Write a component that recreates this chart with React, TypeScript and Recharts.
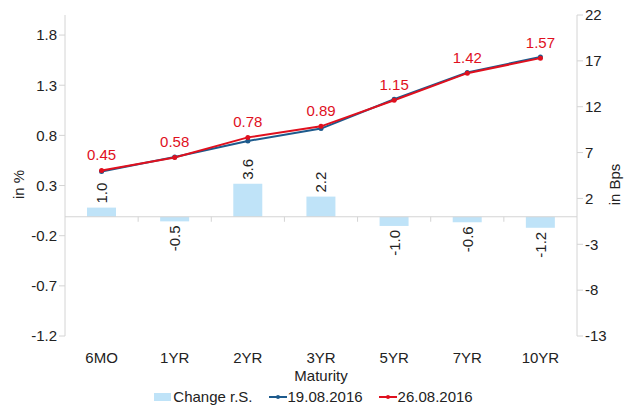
import React from "react";
import {
  ComposedChart,
  Bar,
  Line,
  XAxis,
  YAxis,
  ReferenceLine,
  LabelList,
  Legend,
} from "recharts";

const maturities = ["6MO", "1YR", "2YR", "3YR", "5YR", "7YR", "10YR"];
const yield19 = [0.44, 0.585, 0.744, 0.868, 1.16, 1.426, 1.582];
const yield26 = [0.45, 0.58, 0.78, 0.89, 1.15, 1.42, 1.57];
const changeBps = [1.0, -0.5, 3.6, 2.2, -1.0, -0.6, -1.2];

const leftTicks = [-1.2, -0.7, -0.2, 0.3, 0.8, 1.3, 1.8];
const rightTicks = [-13, -8, -3, 2, 7, 12, 17, 22];

const legendItems = [
  { name: "Change r.S.", color: "#bfe3f8", type: "bar" },
  { name: "19.08.2016", color: "#1d5a8c", type: "line" },
  { name: "26.08.2016", color: "#e0101e", type: "line" },
];

const data = maturities.map((m, i) => ({
  name: m,
  change: changeBps[i],
  y19: yield19[i],
  y26: yield26[i],
}));

const FONT = "'Liberation Sans', Arial, sans-serif";
const AXIS = "#d4d4d4";
const TEXT = "#222";

function BarLabel(props: any) {
  const { x, y, width, height, value } = props;
  const cx = x + width / 2;
  const top = Math.min(y, y + height);
  const bottom = Math.max(y, y + height);
  const pos = value >= 0;
  const ay = pos ? top - 4 : bottom + 4;
  return (
    <text
      x={cx}
      y={ay}
      transform={`rotate(-90 ${cx} ${ay})`}
      textAnchor={pos ? "start" : "end"}
      dominantBaseline="central"
      fontSize={15}
      fontFamily={FONT}
      fill={TEXT}
    >
      {value.toFixed(1)}
    </text>
  );
}

// axis title drawn rotated at a fixed offset inside the axis band
function AxisTitle(props: any) {
  const { viewBox, value, dx } = props;
  const x = viewBox.x + dx;
  const y = viewBox.y + viewBox.height / 2 + 9;
  return (
    <text
      x={x}
      y={y}
      transform={`rotate(-90 ${x} ${y})`}
      textAnchor="middle"
      dominantBaseline="central"
      fontSize={15}
      fontFamily={FONT}
      fill={TEXT}
    >
      {value}
    </text>
  );
}

// zero line with small tick marks between the categories
function ZeroLine(props: any) {
  const { x1, y1, x2 } = props;
  const n = maturities.length;
  const step = (x2 - x1) / n;
  const marks = [];
  for (let i = 1; i < n; i++) {
    const x = x1 + step * i;
    marks.push(<line key={i} x1={x} y1={y1} x2={x} y2={y1 + 5} stroke={AXIS} />);
  }
  return (
    <g>
      <line x1={x1} y1={y1} x2={x2} y2={y1} stroke={AXIS} />
      {marks}
    </g>
  );
}

function LegendContent() {
  return (
    <div
      style={{
        display: "flex",
        justifyContent: "center",
        gap: 16,
        fontFamily: FONT,
        fontSize: 15,
        color: TEXT,
      }}
    >
      {legendItems.map((it) => (
        <span key={it.name} style={{ display: "flex", alignItems: "center" }}>
          {it.type === "bar" ? (
            <svg width={17} height={10} style={{ marginRight: 2 }}>
              <rect x={0} y={1} width={17} height={8} fill={it.color} />
            </svg>
          ) : (
            <svg width={18} height={10} style={{ marginRight: 1 }}>
              <line x1={0} y1={5} x2={18} y2={5} stroke={it.color} strokeWidth={2} />
              <circle cx={9} cy={5} r={2} fill={it.color} />
            </svg>
          )}
          {it.name}
        </span>
      ))}
    </div>
  );
}

export default function App() {
  return (
    <div style={{ position: "absolute", left: 0, top: 0, background: "#fff" }}>
      <ComposedChart
        width={627}
        height={414}
        data={data}
        margin={{ top: 15, right: 5, left: 5, bottom: 0 }}
      >
        <XAxis
          dataKey="name"
          xAxisId="cat"
          axisLine={false}
          tickLine={false}
          tick={{ fill: TEXT, fontSize: 15, fontFamily: FONT }}
          height={52}
          tickMargin={10}
          label={{
            value: "Maturity",
            position: "insideBottom",
            offset: 7,
            fill: TEXT,
            fontSize: 15,
            fontFamily: FONT,
          }}
        />
        <YAxis
          yAxisId="left"
          orientation="left"
          domain={[-1.2, 2.0]}
          ticks={leftTicks}
          interval={0}
          width={60}
          stroke={AXIS}
          tick={{ fill: TEXT, fontSize: 15, fontFamily: FONT }}
          tickFormatter={(v) => v.toFixed(1)}
          label={<AxisTitle value="in %" dx={13} />}
        />
        <YAxis
          yAxisId="right"
          orientation="right"
          domain={[-13, 22]}
          ticks={rightTicks}
          interval={0}
          width={45}
          stroke={AXIS}
          tick={{ fill: TEXT, fontSize: 15, fontFamily: FONT }}
          label={<AxisTitle value="in Bps" dx={37} />}
        />
        <ReferenceLine
          yAxisId="right"
          xAxisId="cat"
          y={0}
          stroke={AXIS}
          shape={<ZeroLine />}
        />
        <Legend verticalAlign="bottom" height={26} content={<LegendContent />} />
        <Bar
          dataKey="change"
          xAxisId="cat"
          yAxisId="right"
          fill="#bfe3f8"
          barSize={29}
          isAnimationActive={false}
        >
          <LabelList dataKey="change" content={<BarLabel />} />
        </Bar>
        <Line
          dataKey="y19"
          xAxisId="cat"
          yAxisId="left"
          stroke="#1d5a8c"
          strokeWidth={2}
          dot={{ r: 2.5, fill: "#1d5a8c", strokeWidth: 0 }}
          isAnimationActive={false}
        />
        <Line
          dataKey="y26"
          xAxisId="cat"
          yAxisId="left"
          stroke="#e0101e"
          strokeWidth={2}
          dot={{ r: 2.5, fill: "#e0101e", strokeWidth: 0 }}
          isAnimationActive={false}
        >
          <LabelList
            dataKey="y26"
            position="top"
            offset={10}
            fill="#e0101e"
            fontSize={15}
            fontFamily={FONT}
            formatter={(v: any) => Number(v).toFixed(2)}
          />
        </Line>
      </ComposedChart>
    </div>
  );
}
